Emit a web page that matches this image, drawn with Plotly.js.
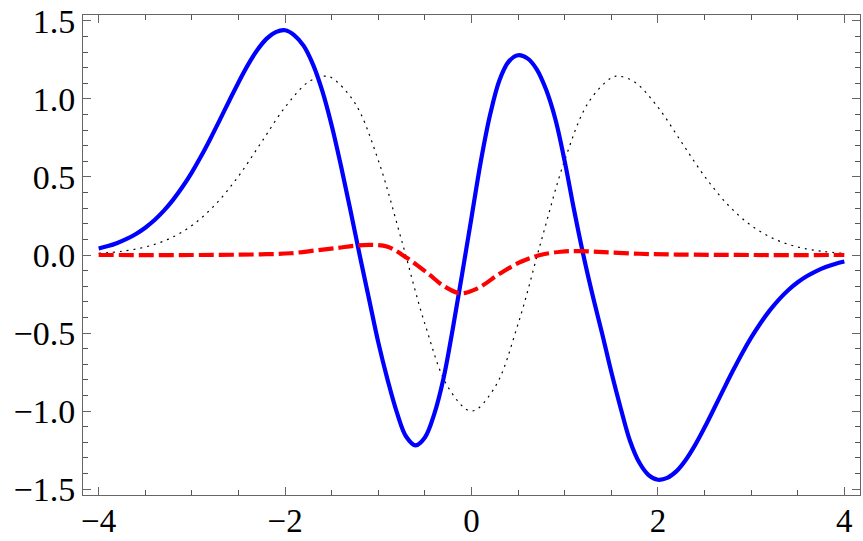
<!DOCTYPE html>
<html>
<head>
<meta charset="utf-8">
<script src="https://cdn.plot.ly/plotly-3.0.1.min.js"></script>
<style>html,body{margin:0;padding:0;background:#fff;}#chart{width:863px;height:541px;}</style>
</head>
<body>
<div id="chart"></div>
<script>
// Solid blue curve (read on a 0.1 grid)
const blueX = [-4.0,-3.9,-3.8,-3.7,-3.6,-3.5,-3.4,-3.3,-3.2,-3.1,-3.0,-2.9,-2.8,-2.7,-2.6,-2.5,-2.4,-2.3,-2.2,-2.1,-2.0,-1.9,-1.8,-1.7,-1.6,-1.5,-1.4,-1.3,-1.2,-1.1,-1.0,-0.9,-0.8,-0.7,-0.6,-0.5,-0.4,-0.3,-0.2,-0.1,0.0,0.1,0.2,0.3,0.4,0.5,0.6,0.7,0.8,0.9,1.0,1.1,1.2,1.3,1.4,1.5,1.6,1.7,1.8,1.9,2.0,2.1,2.2,2.3,2.4,2.5,2.6,2.7,2.8,2.9,3.0,3.1,3.2,3.3,3.4,3.5,3.6,3.7,3.8,3.9,4.0];
const blueY = [0.042,0.057,0.077,0.103,0.135,0.175,0.224,0.284,0.355,0.437,0.530,0.634,0.747,0.866,0.987,1.106,1.217,1.312,1.385,1.428,1.44,1.408,1.34,1.22,1.05,0.83,0.57,0.29,0.0,-0.28,-0.56,-0.80,-1.01,-1.165,-1.22,-1.17,-1.02,-0.79,-0.47,-0.12,0.24,0.60,0.90,1.12,1.24,1.28,1.26,1.19,1.06,0.87,0.60,0.29,0.0,-0.26,-0.50,-0.75,-0.98,-1.19,-1.33,-1.41,-1.44,-1.428,-1.385,-1.312,-1.217,-1.106,-0.987,-0.866,-0.747,-0.634,-0.530,-0.437,-0.355,-0.284,-0.224,-0.175,-0.135,-0.103,-0.077,-0.057,-0.042];

// Dotted black curve
const dotX = [-4,-3.75,-3.5,-3.25,-3,-2.75,-2.5,-2.25,-2,-1.75,-1.58,-1.5,-1.25,-1,-0.75,-0.5,-0.25,0,0.25,0.5,0.75,1,1.25,1.5,1.58,1.75,2,2.25,2.5,2.75,3,3.25,3.5,3.75,4];
const dotY = [0.0104,0.024,0.0514,0.102,0.189,0.322,0.505,0.726,0.947,1.109,1.146,1.136,0.973,0.607,0.0943,-0.441,-0.848,-1.0,-0.848,-0.441,0.0943,0.607,0.973,1.136,1.146,1.109,0.947,0.726,0.505,0.322,0.189,0.102,0.0514,0.024,0.0104];

// Dashed red curve
const redX = [-4,-3,-2.5,-2.2,-1.94,-1.66,-1.44,-1.25,-1.08,-0.9,-0.69,-0.47,-0.295,-0.12,0.06,0.31,0.53,0.74,0.96,1.15,1.42,1.8,2.2,3,4];
const redY = [0,0,0.002,0.005,0.011,0.03,0.045,0.06,0.065,0.053,-0.02,-0.117,-0.2,-0.245,-0.215,-0.117,-0.043,0.0,0.021,0.025,0.018,0.008,0.003,0,0];

const xTickVals = [-4,-2,0,2,4];
const xTickText = ['\u22124','\u22122','0','2','4'];
const yTickVals = [-1.5,-1.0,-0.5,0.0,0.5,1.0,1.5];
const yTickText = ['\u22121.5','\u22121.0','\u22120.5','0.0','0.5','1.0','1.5'];

const traces = [
  {x: dotX, y: dotY, mode: 'lines', line: {color: '#000', width: 1.2, dash: '2px,5px', shape: 'spline'}, hoverinfo: 'skip'},
  {x: blueX, y: blueY, mode: 'lines', line: {color: '#0000ff', width: 4.2, shape: 'spline', smoothing: 1}, hoverinfo: 'skip'},
  {x: redX, y: redY, mode: 'lines', line: {color: '#ff0000', width: 4.2, dash: '15px,5px', shape: 'spline'}, hoverinfo: 'skip'}
];

const serif = '"Liberation Serif", "Times New Roman", serif';
const axisCommon = {
  showgrid: false, zeroline: false, showline: true, linecolor: '#666', linewidth: 1,
  mirror: 'ticks', ticks: 'inside', tickcolor: '#666', tickwidth: 1, ticklen: 8,
  tickmode: 'array'
};

const layout = {
  width: 863, height: 541,
  margin: {l: 83, r: 3, t: 15, b: 46},
  paper_bgcolor: '#fff', plot_bgcolor: '#fff',
  showlegend: false,
  xaxis: Object.assign({}, axisCommon, {
    range: [-4.168, 4.168], tickvals: xTickVals, ticktext: xTickText,
    tickfont: {family: serif, size: 33, color: '#000'}, ticklabelstandoff: -4,
    minor: {dtick: 0.5, tick0: 0, ticks: 'inside', ticklen: 5, tickcolor: '#555', tickwidth: 1}
  }),
  yaxis: Object.assign({}, axisCommon, {
    range: [-1.538, 1.538], tickvals: yTickVals, ticktext: yTickText,
    tickfont: {family: serif, size: 34, color: '#000'},
    minor: {dtick: 0.1, tick0: 0, ticks: 'inside', ticklen: 5, tickcolor: '#555', tickwidth: 1}
  })
};

Plotly.newPlot('chart', traces, layout, {staticPlot: true, displayModeBar: false});
</script>
</body>
</html>
